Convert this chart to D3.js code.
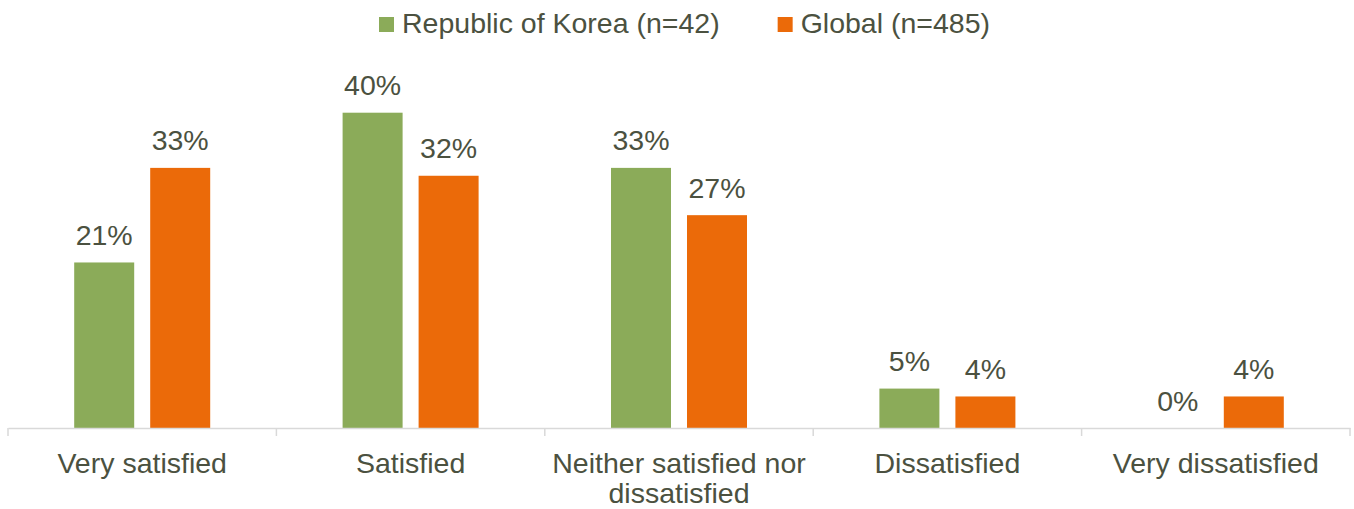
<!DOCTYPE html>
<html>
<head>
<meta charset="utf-8">
<script src="https://cdn.jsdelivr.net/npm/d3@7/dist/d3.min.js"></script>
<style>
  html, body { margin: 0; padding: 0; background: #ffffff; }
  svg { display: block; font-family: "Liberation Sans", Arial, sans-serif; }
</style>
</head>
<body>
<svg id="chart" width="1354" height="509"></svg>
<script>
// Satisfaction levels shown along the x axis
const categories = ["Very satisfied", "Satisfied", "Neither satisfied nor dissatisfied", "Dissatisfied", "Very dissatisfied"];
// Share of respondents (%) per series
const koreaValues = [21, 40, 33, 5, 0];
const globalValues = [33, 32, 27, 4, 4];
const seriesNames = ["Republic of Korea (n=42)", "Global (n=485)"];

const colors = ["#8BAB59", "#EB6A09"];
const textColor = "#4B5140";
const fontSize = 28.5;

const svg = d3.select("#chart");
const baseline = 428;

const series = [koreaValues, globalValues];

const x = d3.scaleBand().domain(categories).range([8, 1350]).paddingInner(0).paddingOuter(0);
// Two bars of 60px with a 16px gap, centred in each category band
const groupW = 136;
const inner = d3.scaleBand().domain([0, 1])
  .range([(x.bandwidth() - groupW) / 2, (x.bandwidth() + groupW) / 2])
  .paddingInner(16 / 76).paddingOuter(0);
const y = d3.scaleLinear().domain([0, 40]).range([baseline, 112.7]);

// Bars and value labels
categories.forEach((cat, i) => {
  series.forEach((vals, s) => {
    const v = vals[i];
    const bx = x(cat) + inner(s);
    if (v > 0) {
      svg.append("rect")
        .attr("x", bx)
        .attr("y", y(v))
        .attr("width", inner.bandwidth())
        .attr("height", baseline - y(v))
        .attr("fill", colors[s]);
    }
    svg.append("text")
      .attr("x", bx + inner.bandwidth() / 2)
      .attr("y", y(v) - 17.5)
      .attr("text-anchor", "middle")
      .attr("font-size", fontSize)
      .attr("fill", textColor)
      .text(v + "%");
  });
});

// Category axis line
const axis = d3.axisBottom(x).tickSize(0).tickFormat("");
const gAxis = svg.append("g").attr("transform", `translate(0,${baseline})`).call(axis);
gAxis.select(".domain").attr("stroke", "#D9D9D9").attr("stroke-width", 1.5);

// Tick marks at category boundaries
const bounds = categories.map(c => x(c)).concat([x.range()[1]]);
svg.append("g").selectAll("line").data(bounds).join("line")
  .attr("x1", d => d).attr("x2", d => d)
  .attr("y1", baseline).attr("y2", baseline + 8)
  .attr("stroke", "#D9D9D9").attr("stroke-width", 1.5);

// Category labels, wrapped to the band width
const maxW = x.bandwidth() - 8;
categories.forEach(cat => {
  const cx = x(cat) + x.bandwidth() / 2;
  const t = svg.append("text")
    .attr("x", cx)
    .attr("y", 473)
    .attr("text-anchor", "middle")
    .attr("font-size", fontSize)
    .attr("fill", textColor);
  const words = cat.split(" ");
  let line = [];
  let tspan = t.append("tspan").attr("x", cx).attr("dy", 0);
  words.forEach(w => {
    line.push(w);
    tspan.text(line.join(" "));
    if (tspan.node().getComputedTextLength() > maxW && line.length > 1) {
      line.pop();
      tspan.text(line.join(" "));
      line = [w];
      tspan = t.append("tspan").attr("x", cx).attr("dy", 30).text(w);
    }
  });
});

// Legend
const legend = svg.append("g");
let lx = 379;
seriesNames.forEach((name, s) => {
  legend.append("rect")
    .attr("x", lx).attr("y", 17)
    .attr("width", 15).attr("height", 15)
    .attr("fill", colors[s]);
  const t = legend.append("text")
    .attr("x", lx + 23).attr("y", 33)
    .attr("font-size", fontSize)
    .attr("fill", textColor)
    .text(name);
  lx += 23 + t.node().getComputedTextLength() + 58;
});
</script>
</body>
</html>
